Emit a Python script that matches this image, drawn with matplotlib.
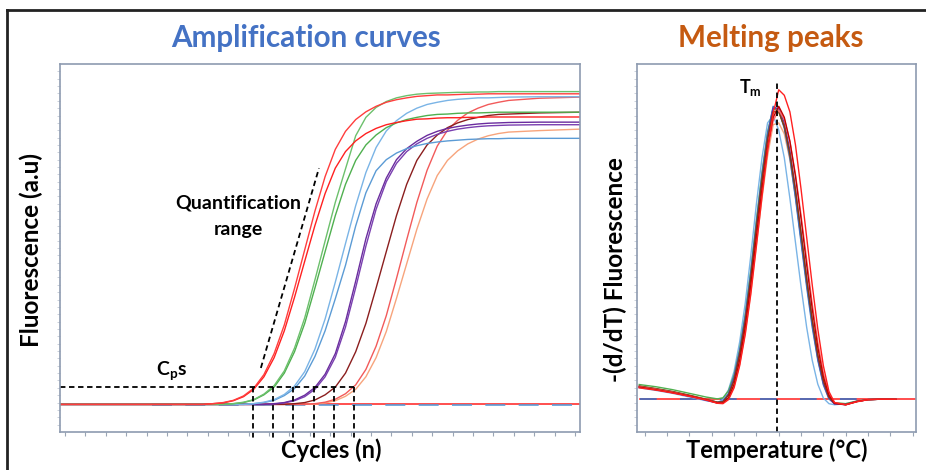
import numpy as np
import matplotlib.pyplot as plt
from matplotlib.lines import Line2D

plt.rcParams['font.family'] = ['Lato', 'DejaVu Sans']
plt.rcParams['mathtext.fontset'] = 'custom'
plt.rcParams['mathtext.rm'] = 'Lato'
plt.rcParams['mathtext.bf'] = 'Lato:bold'
plt.rcParams['mathtext.it'] = 'Lato:italic'

# ---- amplification curves (fluorescence per cycle) ----
cycles = [0, 6, 12] + list(range(13, 45)) + [47, 51]

red_a = [7.5, 7.5, 7.5,
         7.5, 7.5, 7.7, 8.0, 8.6, 9.8, 11.9, 15.6,
         21.3, 29.1, 39.0, 49.5, 60.0, 69.4, 76.8, 81.7,
         84.9, 87.0, 88.5, 89.6, 90.3, 90.8, 91.2, 91.4,
         91.6, 91.6, 91.7, 91.8, 91.8, 91.9, 91.9, 91.9,
         91.9, 91.9]
red_b = [7.5, 7.5, 7.5,
         7.5, 7.5, 7.7, 7.9, 8.5, 9.6, 11.6, 15.0,
         20.2, 27.5, 36.6, 46.4, 56.1, 64.8, 71.7, 76.2,
         79.1, 81.1, 82.5, 83.5, 84.1, 84.6, 85.0, 85.1,
         85.3, 85.4, 85.4, 85.5, 85.5, 85.6, 85.6, 85.6,
         85.6, 85.6]
green_a = [7.5, 7.5, 7.5,
           7.5, 7.5, 7.5, 7.5, 7.7, 8.1, 8.8, 10.3,
           12.6, 16.6, 22.8, 31.0, 41.3, 51.9, 62.4, 71.5,
           80.5, 85.5, 88.2, 89.8, 90.8, 91.4, 91.8, 92.0,
           92.1, 92.2, 92.3, 92.3, 92.4, 92.4, 92.5, 92.5,
           92.5, 92.5]
green_b = [7.5, 7.5, 7.5,
           7.5, 7.5, 7.5, 7.5, 7.7, 8.0, 8.7, 10.1,
           12.2, 16.0, 21.8, 29.5, 39.1, 49.0, 58.8, 67.3,
           73.8, 78.0, 80.7, 82.7, 84.0, 84.9, 85.5, 86.0,
           86.3, 86.4, 86.6, 86.7, 86.7, 86.8, 86.9, 86.9,
           86.9, 86.9]
blue_a = [7.5, 7.5, 7.5,
          7.5, 7.5, 7.5, 7.5, 7.5, 7.5, 7.7, 8.1,
          8.8, 10.2, 12.5, 16.4, 22.5, 30.7, 40.7, 51.2,
          61.5, 70.5, 77.3, 81.8, 84.6, 86.6, 88.0, 89.0,
          89.6, 90.1, 90.4, 90.6, 90.8, 90.8, 90.9, 91.0,
          91.1, 91.1]
blue_b = [7.5, 7.5, 7.5,
          7.5, 7.5, 7.5, 7.5, 7.5, 7.5, 7.7, 8.0,
          8.6, 9.9, 11.8, 15.2, 20.5, 27.5, 36.2, 45.3,
          56.0, 65.0, 71.0, 74.0, 75.8, 77.0, 77.8, 78.4,
          78.8, 79.1, 79.3, 79.5, 79.6, 79.7, 79.7, 79.8,
          79.8, 79.8]
purple_a = [7.5, 7.5, 7.5,
            7.5, 7.5, 7.5, 7.5, 7.5, 7.5, 7.5, 7.5,
            7.7, 8.0, 8.7, 10.0, 12.1, 15.7, 21.3, 30.0,
            41.0, 52.5, 62.0, 69.0, 74.0, 77.0, 79.0, 80.6,
            81.7, 82.5, 83.0, 83.4, 83.7, 83.9, 84.0, 84.1,
            84.2, 84.2]
purple_b = [7.5, 7.5, 7.5,
            7.5, 7.5, 7.5, 7.5, 7.5, 7.5, 7.5, 7.5,
            7.6, 7.9, 8.5, 9.6, 11.6, 15.0, 20.3, 28.5,
            39.2, 50.5, 60.5, 68.0, 73.0, 76.2, 78.3, 79.8,
            80.9, 81.7, 82.3, 82.7, 83.0, 83.2, 83.3, 83.4,
            83.5, 83.5]
brown = [7.5, 7.5, 7.5,
         7.5, 7.5, 7.5, 7.5, 7.5, 7.5, 7.5, 7.5,
         7.5, 7.5, 7.7, 8.0, 8.7, 10.1, 12.2, 16.0,
         21.8, 29.5, 39.1, 49.0, 58.8, 67.3, 73.8, 78.0,
         80.7, 82.7, 84.0, 84.9, 85.5, 86.0, 86.3, 86.4,
         86.7, 86.9]
red_late = [7.5, 7.5, 7.5,
            7.5, 7.5, 7.5, 7.5, 7.5, 7.5, 7.5, 7.5,
            7.5, 7.5, 7.5, 7.5, 7.7, 8.1, 8.9, 10.4,
            12.8, 17.0, 23.3, 31.6, 41.7, 52.2, 62.4, 71.1,
            77.7, 82.0, 84.7, 86.7, 88.0, 89.0, 89.6, 90.1,
            90.7, 91.0]
orange = [7.5, 7.5, 7.5,
          7.5, 7.5, 7.5, 7.5, 7.5, 7.5, 7.5, 7.5,
          7.5, 7.5, 7.5, 7.5, 7.6, 7.9, 8.5, 9.7,
          11.6, 15.0, 20.2, 27.3, 36.3, 45.7, 55.1, 63.3,
          69.7, 73.8, 76.4, 78.3, 79.6, 80.5, 81.1, 81.5,
          81.9, 82.3]

amp_series = [
    (orange, '#f7a47c'), (red_late, '#f25a5a'), (brown, '#8b1e1e'),
    (purple_b, '#7a3fb0'), (purple_a, '#6a2c9e'),
    (blue_b, '#5b9bd5'), (blue_a, '#7ab4e6'),
    (green_b, '#4fb04f'), (green_a, '#6cc06c'),
    (red_b, '#ff2020'), (red_a, '#ff3d3d'),
]

# no-template controls
ntc_cycles = [9, 51]
ntc_blue = [7.3, 7.3]
ntc_red = [7.5, 7.5]

threshold = 12.2
cp_values = [18.9, 20.9, 22.9, 24.9, 26.9, 28.8]
quant_x = [19.7, 25.4]
quant_y = [17.4, 71.7]

# ---- melting peaks, -(dF/dT) ----
temps = [69.5, 71.0, 72.5, 74.0, 75.5, 76.5,
         77.0, 77.5, 78.0, 78.5, 79.0, 79.5, 80.0, 80.5, 81.0, 81.5, 82.0,
         82.5, 83.0, 83.5, 84.0, 84.5, 85.0, 85.5, 86.0, 86.5, 87.0,
         88.0, 89.0, 90.0, 91.0, 92.5]

melt_blue = [12.4, 11.7, 10.9, 9.9, 8.8, 8.1,
             8.4, 10.5, 15.0, 22.0, 31.5, 43.5, 57.0, 70.0, 81.0, 88.5, 87.5,
             82.5, 74.5, 63.5, 51.5, 39.5, 28.5, 19.5, 12.8, 9.0, 7.7,
             7.4, 8.3, 8.8, 8.9, 8.9]
melt_green = [12.9, 12.3, 11.5, 10.5, 9.5, 9.0,
              9.3, 11.2, 15.5, 22.5, 32.0, 44.0, 57.5, 70.5, 81.5, 88.0, 87.0,
              83.0, 75.0, 64.5, 52.5, 40.5, 29.5, 20.0, 13.3, 9.5, 8.0,
              7.7, 8.4, 8.8, 8.9, 8.9]
melt_lightblue = [12.0, 11.3, 10.5, 9.5, 8.5, 8.0,
                  8.8, 11.5, 16.5, 24.5, 35.0, 48.0, 62.0, 74.5, 84.0, 86.0, 82.0,
                  74.5, 63.5, 51.5, 39.5, 28.5, 19.5, 13.0, 9.2, 7.7, 7.4,
                  7.7, 8.4, 8.8, 8.9, 8.9]
melt_purple = [12.2, 11.5, 10.7, 9.7, 8.6, 7.9,
               8.2, 10.2, 14.5, 21.5, 30.5, 42.0, 55.5, 68.5, 80.0, 88.0, 88.0,
               84.0, 76.5, 66.0, 54.0, 42.0, 30.5, 20.5, 13.5, 9.3, 7.6,
               7.5, 8.3, 8.8, 8.9, 8.9]
melt_red = [12.0, 11.4, 10.6, 9.7, 8.7, 7.8,
            7.7, 8.8, 12.0, 18.0, 26.5, 37.5, 50.5, 64.0, 76.5, 86.5, 93.0,
            91.5, 87.0, 78.0, 66.0, 53.0, 40.0, 28.0, 18.0, 11.0, 8.0,
            7.4, 8.2, 8.8, 8.9, 8.9]
melt_darkred = [12.2, 11.5, 10.7, 9.8, 8.8, 7.9,
                7.9, 9.3, 13.0, 19.5, 28.5, 40.0, 53.0, 66.0, 77.5, 85.5, 88.5,
                85.5, 79.0, 69.5, 58.0, 45.5, 33.5, 23.0, 15.0, 10.0, 7.8,
                7.4, 8.3, 8.8, 8.9, 8.9]
melt_orange = [12.4, 11.7, 10.9, 9.9, 8.9, 8.1,
               8.0, 9.2, 12.5, 18.5, 27.0, 38.0, 51.0, 63.5, 75.0, 83.5, 84.0,
               81.0, 74.0, 64.0, 52.5, 40.5, 29.5, 20.0, 13.0, 9.0, 7.7,
               7.5, 8.3, 8.8, 8.9, 8.9]
melt_pink = [12.3, 11.6, 10.8, 9.8, 8.8, 7.9,
             7.9, 9.0, 12.5, 18.5, 27.5, 39.0, 52.0, 65.0, 76.5, 84.5, 87.5,
             85.0, 79.0, 70.0, 59.0, 47.0, 35.0, 24.5, 16.0, 10.5, 8.0,
             7.4, 8.3, 8.8, 8.9, 8.9]
melt_brown = [12.5, 11.8, 11.0, 10.0, 8.9, 8.1,
              8.2, 10.0, 14.0, 21.0, 30.0, 42.0, 55.5, 68.5, 79.5, 87.0, 87.0,
              83.0, 75.5, 65.5, 54.0, 41.5, 30.5, 21.0, 14.0, 9.5, 7.8,
              7.5, 8.3, 8.8, 8.9, 8.9]

melt_series = [
    (melt_orange, '#f4a77e'), (melt_lightblue, '#7ab4e6'), (melt_green, '#4fb04f'),
    (melt_blue, '#3a6fc4'), (melt_purple, '#7030a0'), (melt_brown, '#843c0c'),
    (melt_pink, '#ff6f6f'), (melt_darkred, '#c00000'), (melt_red, '#ff2020'),
]

melt_ntc_temps = [69.6, 94.2]
melt_ntc = [8.9, 8.9]
tm = 81.8

spine_col = '#8e9bb0'

fig = plt.figure(figsize=(9.26, 4.70), dpi=100)
ax1 = fig.add_axes([60 / 926, 38 / 470, 520 / 926, 368 / 470])
ax2 = fig.add_axes([637 / 926, 38 / 470, 279 / 926, 368 / 470])

for ax in (ax1, ax2):
    for s in ax.spines.values():
        s.set_color(spine_col)
        s.set_linewidth(1.2)
    ax.tick_params(axis='x', direction='out', length=3, width=0.8,
                   color='#9aa5b5', labelbottom=False)
    ax.tick_params(axis='y', direction='out', length=2, width=0.6,
                   color='#c3cad6', labelleft=False)
    ax.set_ylim(0, 100)
    ax.set_yticks(np.arange(2, 100, 2))

# left panel
ax1.set_xlim(0, 51)
ax1.set_xticks(np.arange(0.5, 51, 2))
ax1.plot(ntc_cycles, ntc_red, color='#ff3030', lw=1.2)
ax1.plot(ntc_cycles, ntc_blue, color='#5b9bd5', lw=1.2, dashes=(12, 8))
for vals, col in amp_series:
    ax1.plot(cycles, vals, color=col, lw=1.0)

dash = (3, 2)
ax1.plot([0, cp_values[-1]], [threshold, threshold], color='black', lw=1.3, dashes=dash)
for cp in cp_values:
    ax1.plot([cp, cp], [threshold, -1.8], color='black', lw=1.3, dashes=dash, clip_on=False)
ax1.plot(quant_x, quant_y, color='black', lw=1.3, dashes=dash)

ax1.text(17.5, 62.2, 'Quantification', fontsize=14, fontweight='bold', ha='center', va='center')
ax1.text(17.5, 54.9, 'range', fontsize=14, fontweight='bold', ha='center', va='center')
ax1.text(10.9, 16.8, r'$\mathbf{C_p s}$', fontsize=14, ha='center', va='center')

# right panel
ax2.set_xlim(69.3, 94.3)
ax2.set_xticks(np.arange(70, 95, 2))
ax2.plot(melt_ntc_temps, melt_ntc, color='#ff3030', lw=1.2)
ax2.plot(melt_ntc_temps, melt_ntc, color='#3a6fc4', lw=1.2, dashes=(10, 14))
for vals, col in melt_series:
    ax2.plot(temps, vals, color=col, lw=1.0)
ax2.plot([tm, tm], [0, 95.5], color='black', lw=1.3, dashes=dash)
ax2.text(79.5, 93.5, r'$\mathbf{T_m}$', fontsize=13, ha='center', va='center')

# titles and axis labels
fig.text(306 / 926, 1 - 38 / 470, 'Amplification curves', color='#4472c4',
         fontsize=21.3, fontweight='bold', ha='center', va='center')
fig.text(771 / 926, 1 - 38 / 470, 'Melting peaks', color='#c55a11',
         fontsize=21.3, fontweight='bold', ha='center', va='center')
fig.text(31 / 926, 1 - 250 / 470, 'Fluorescence (a.u)', rotation=90,
         fontsize=17.5, fontweight='bold', ha='center', va='center')
fig.text(615 / 926, 1 - 270 / 470, '-(d/dT) Fluorescence', rotation=90,
         fontsize=17.5, fontweight='bold', ha='center', va='center')
fig.text(331 / 926, 1 - 450 / 470, 'Cycles (n)',
         fontsize=17, fontweight='bold', ha='center', va='center')
fig.text(777 / 926, 1 - 450 / 470, 'Temperature (°C)',
         fontsize=17, fontweight='bold', ha='center', va='center')

# outer frame (only top and left edges fall inside the picture)
fig.add_artist(Line2D([7 / 926, 7 / 926], [0, 1 - 10 / 470],
                      transform=fig.transFigure, color='#222222', lw=2))
fig.add_artist(Line2D([7 / 926, 1], [1 - 10 / 470, 1 - 10 / 470],
                      transform=fig.transFigure, color='#222222', lw=2))

fig.savefig('out.png', dpi=100)
